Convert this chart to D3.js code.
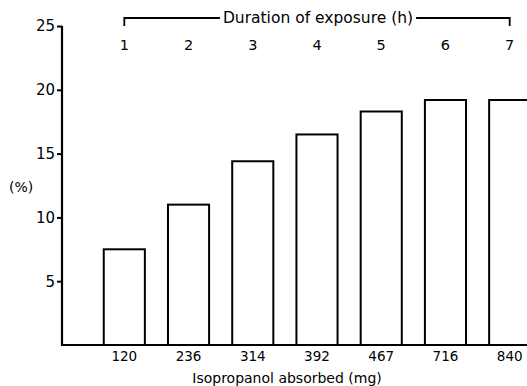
<!DOCTYPE html>
<html><head><meta charset="utf-8">
<script src="https://cdn.jsdelivr.net/npm/d3@7"></script>
<style>body{margin:0;background:#fff}svg{display:block}text{font-family:"DejaVu Sans",sans-serif;fill:#000}</style>
</head><body><div id="c"></div>
<script>
const absorbed = ["120","236","314","392","467","716","840"];
const hours = ["1","2","3","4","5","6","7"];
const values = [7.5, 11.0, 14.4, 16.5, 18.3, 19.2, 19.2];
const yTicks = [5, 10, 15, 20, 25];

const W = 527, H = 386;
const svg = d3.select("#c").append("svg").attr("width", W).attr("height", H);
const x = d3.scaleBand().domain(absorbed).range([62, 572]).paddingInner(0.36).paddingOuter(0.65);
const y = d3.scaleLinear().domain([0, 25]).range([345, 26]);

// bars
svg.append("g").selectAll("rect").data(values).join("rect")
  .attr("x", (d, i) => x(absorbed[i]))
  .attr("y", d => y(d))
  .attr("width", x.bandwidth())
  .attr("height", d => y(0) - y(d))
  .attr("fill", "#fff").attr("stroke", "#000").attr("stroke-width", 2);

// y axis
const ya = svg.append("g").attr("transform", "translate(62,0)")
  .call(d3.axisLeft(y).tickValues(yTicks).tickSize(5).tickPadding(2));
ya.select(".domain").attr("d", `M0,${y(25)}V${y(0)}`).attr("stroke-width", 2.2);
ya.selectAll(".tick line").attr("stroke-width", 2);
ya.selectAll("text").style("font-size", "15px").attr("font-family", "DejaVu Sans");

// x axis
const xa = svg.append("g").attr("transform", `translate(0,${y(0)})`)
  .call(d3.axisBottom(x).tickSize(0).tickPadding(6));
xa.select(".domain").attr("d", `M61,0H${W}`).attr("stroke-width", 2.2);
xa.selectAll("text").style("font-size", "13.5px").attr("font-family", "DejaVu Sans");

// top hours axis
const hx = d3.scaleBand().domain(hours).range(x.range()).paddingInner(0.36).paddingOuter(0.65);
svg.append("g").selectAll("text").data(hours).join("text")
  .attr("x", d => hx(d) + hx.bandwidth() / 2).attr("y", 50)
  .attr("text-anchor", "middle").style("font-size", "14.5px").text(d => d);

const bx0 = hx(hours[0]) + hx.bandwidth() / 2, bx1 = hx(hours[6]) + hx.bandwidth() / 2;
const by = 18;
const t = svg.append("text").attr("x", 318).attr("y", by + 5).attr("text-anchor", "middle")
  .style("font-size", "15.5px").text("Duration of exposure (h)");
const bb = t.node().getBBox();
svg.append("path").attr("fill", "none").attr("stroke", "#000").attr("stroke-width", 1.8)
  .attr("d", `M${bx0},${by + 8}V${by}H${bb.x - 3}M${bb.x + bb.width + 3},${by}H${bx1}V${by + 8}`);

// axis titles
svg.append("text").attr("x", 287).attr("y", 383).attr("text-anchor", "middle")
  .style("font-size", "14px").text("Isopropanol absorbed (mg)");
svg.append("text").attr("x", 9).attr("y", 192).style("font-size", "14px").text("(%)");
</script></body></html>
